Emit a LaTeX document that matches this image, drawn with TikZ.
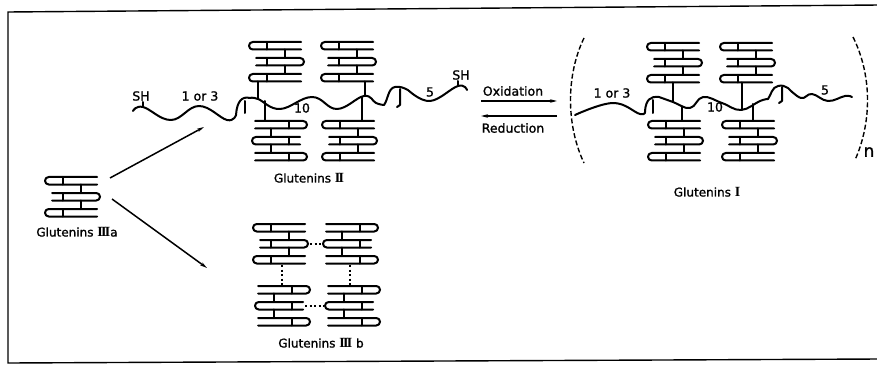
\documentclass[tikz,border=0pt]{standalone}
\usepackage{fontspec}
\setmainfont{DejaVu Sans}[FakeBold=1.3]
\newfontfamily\lblfont{DejaVu Sans}[FakeBold=1.3]
\newfontfamily\numfont{Liberation Serif}
\usetikzlibrary{arrows.meta}

% Roman numeral with joined serifs
\newcommand\rnum[1]{{\numfont\bfseries\fontsize{14}{14}\selectfont #1}}

\tikzset{
  strand/.style={line width=2pt, line cap=round, line join=round},
  hairpin/.style={strand, rounded corners=3.7pt},
  frameline/.style={line width=1.4pt},
  arr/.style={line width=1.5pt, -{Stealth[length=7pt, width=3.5pt]}},
  bond/.style={line width=2pt, dash pattern=on 2pt off 2.5pt},
  paren/.style={line width=1.4pt, dash pattern=on 5pt off 2.5pt},
  lbl/.style={inner sep=0pt, font=\lblfont\fontsize{12.5}{13}\selectfont},
  glabel/.style={inner sep=0pt, font=\lblfont\fontsize{12}{13}\selectfont},
  % folded subunit: three hairpins, first one closed on the left
  stackL/.pic={
    \draw[hairpin] (52,0) -- (0,0) -- (0,7.5) -- (52,7.5);
    \draw[hairpin] (7,16) -- (55,16) -- (55,23.5) -- (7,23.5);
    \draw[hairpin] (52,32) -- (0,32) -- (0,39.5) -- (52,39.5);
    \draw[strand] (18,0) -- (18,7.5) (36,7.5) -- (36,16)
                  (18,16) -- (18,23.5) (36,23.5) -- (36,32)
                  (18,32) -- (18,39.5);
  },
  % mirrored subunit: first hairpin closed on the right
  stackR/.pic={ \pic[xscale=-1] at (55,0) {stackL}; }
}

\begin{document}
\begin{tikzpicture}[x=1pt, y=-1pt]
\useasboundingbox (0,0) rectangle (877,366);

% frame
\draw[frameline] (880,5) -- (8,12) -- (8,363) -- (880,359);

% ---------- Glutenins IIIa ----------
\coordinate (g3a) at (45,177);
\pic at (g3a) {stackL};
\node[glabel] (g3a-lbl) at (77,232) {Glutenins \rnum{I\kern-1.7ptI\kern-1.7ptI}a};

% ---------- Glutenins II ----------
\coordinate (g2tl) at (249,42);
\coordinate (g2tr) at (321,42);
\coordinate (g2bl) at (252,121);
\coordinate (g2br) at (322,121);
\pic at (g2tl) {stackL};
\pic at (g2tr) {stackL};
\pic at (g2bl) {stackR};
\pic at (g2br) {stackL};

% chain segment "1 or 3", rising into the junction cap
\draw[strand] plot[smooth, tension=0.7] coordinates
  {(133,111) (143,107) (171,120) (199,106) (227,120) (236,115)};
\draw[strand] (236,115) .. controls (237,101) and (242,96) .. (250,98);
\draw[strand] (245,101) -- (245,113);
% chain segment "10"
\draw[strand] plot[smooth, tension=0.7] coordinates
  {(250,98) (258,99) (280,109) (312,97) (337,109) (364,96) (376,103) (384,105)};
% junction cap and stem
\draw[strand] (384,105) .. controls (388,100) and (388,88) .. (395,87)
              .. controls (400,86) and (404,88) .. (408,90);
\draw[strand] (400,89) -- (400,105) -- (397,107);
% chain segment "5"
\draw[strand] plot[smooth, tension=0.7] coordinates
  {(408,90) (430,101) (458,86) (467,90)};
% thiol ticks
\coordinate (sh1a) at (143,107); \coordinate (sh1b) at (143,102);
\coordinate (sh2a) at (458,86);  \coordinate (sh2b) at (458,81);
\draw[strand] (sh1a) -- (sh1b);
\draw[strand] (sh2a) -- (sh2b);

% subunit links to the chain
\coordinate (c2a) at (258,81.5); \coordinate (c2aE) at (258,99);
\coordinate (c2b) at (365,81.5); \coordinate (c2bE) at (365,96);
\coordinate (c2c) at (265,101);  \coordinate (c2cE) at (265,121);
\coordinate (c2d) at (362,97);   \coordinate (c2dE) at (362,121);
\draw[strand] (c2a) -- (c2aE);
\draw[strand] (c2b) -- (c2bE);
\draw[strand] (c2c) -- (c2cE);
\draw[strand] (c2d) -- (c2dE);

\node[lbl] (sh1) at (141,96) {SH};
\node[lbl] (n13a) at (200,96) {1 or 3};
\node[lbl] (n10a) at (302,108) {10};
\node[lbl] (n5a) at (430,92) {5};
\node[lbl] (sh2) at (461,75) {SH};
\node[glabel] (g2-lbl) at (309,178) {Glutenins \rnum{I\kern-1.7ptI}};

% ---------- oxidation / reduction ----------
\coordinate (oxL) at (481,101); \coordinate (oxR) at (557,101);
\coordinate (rdL) at (481,116); \coordinate (rdR) at (557,116);
\draw[arr] (oxL) -- (oxR);
\draw[arr] (rdR) -- (rdL);
\node[lbl] (ox) at (513,91) {Oxidation};
\node[lbl] (rd) at (513,128) {Reduction};

% ---------- Glutenins I ----------
\draw[paren] (584,38) .. controls (566,75) and (566,125) .. (584,163);
\draw[paren] (853,37) .. controls (872,75) and (872,122) .. (855,160);
\node[inner sep=0pt, font=\lblfont\fontsize{17}{17}\selectfont] (nn) at (869,152) {n};

\coordinate (g1tl) at (647,43);
\coordinate (g1tr) at (720,43);
\coordinate (g1bl) at (648,121);
\coordinate (g1br) at (722,121);
\pic at (g1tl) {stackL};
\pic at (g1tr) {stackL};
\pic at (g1bl) {stackL};
\pic at (g1br) {stackL};

\draw[strand] plot[smooth, tension=0.7] coordinates
  {(575,115) (613,103) (640,114) (645,111)};
\draw[strand] (645,111) .. controls (646,100) and (650,96) .. (659,97);
\draw[strand] (653,100) -- (653,113);
\draw[strand] plot[smooth, tension=0.7] coordinates
  {(659,97) (673,102) (690,108) (703,97) (722,103) (741,110) (760,101) (768,99)};
\draw[strand] (768,99) .. controls (771,95) and (772,87) .. (778,86)
              .. controls (782,85) and (785,86) .. (788,88);
\draw[strand] (782,87) -- (782,101) -- (779,103);
\draw[strand] plot[smooth, tension=0.7] coordinates
  {(788,88) (801,98) (812,94) (828,101) (845,96) (852,97)};

\coordinate (c1a) at (673,82.5); \coordinate (c1aE) at (673,102);
\coordinate (c1b) at (742,82.5); \coordinate (c1bE) at (742,110);
\coordinate (c1c) at (682,106);  \coordinate (c1cE) at (682,121);
\coordinate (c1d) at (753,104);  \coordinate (c1dE) at (753,121);
\draw[strand] (c1a) -- (c1aE);
\draw[strand] (c1b) -- (c1bE);
\draw[strand] (c1c) -- (c1cE);
\draw[strand] (c1d) -- (c1dE);

\node[lbl] (n13b) at (612,93) {1 or 3};
\node[lbl] (n10b) at (715,107) {10};
\node[lbl] (n5b) at (825,90) {5};
\node[glabel] (g1-lbl) at (707,192) {Glutenins \rnum{I}};

% ---------- Glutenins IIIb ----------
\coordinate (g3bul) at (253,224);
\coordinate (g3bur) at (323,224);
\coordinate (g3bll) at (255,286);
\coordinate (g3blr) at (325,286);
\pic at (g3bul) {stackL};
\pic at (g3bur) {stackR};
\pic at (g3bll) {stackR};
\pic at (g3blr) {stackR};

\coordinate (b1) at (310,244); \coordinate (b1E) at (322,244);
\coordinate (b2) at (282,265); \coordinate (b2E) at (282,285);
\coordinate (b3) at (350,265); \coordinate (b3E) at (350,285);
\coordinate (b4) at (305,306); \coordinate (b4E) at (324,306);
\draw[bond] (b1) -- (b1E);
\draw[bond] (b2) -- (b2E);
\draw[bond] (b3) -- (b3E);
\draw[bond] (b4) -- (b4E);
\node[glabel] (g3b-lbl) at (321,343) {Glutenins \rnum{I\kern-1.7ptI\kern-1.7ptI} b};

% ---------- pathways from IIIa ----------
\coordinate (p0) at (110,178); \coordinate (p1) at (204,127);
\coordinate (q0) at (112,199); \coordinate (q1) at (207,268);
\draw[arr] (p0) -- (p1);
\draw[arr] (q0) -- (q1);
\end{tikzpicture}
\end{document}
